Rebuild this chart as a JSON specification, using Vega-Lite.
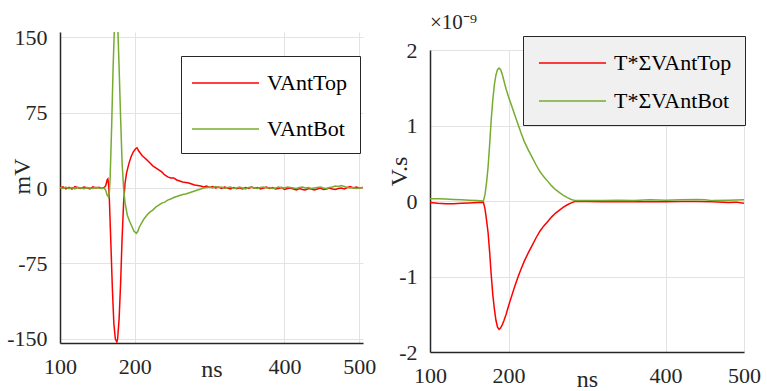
{
  "$schema": "https://vega.github.io/schema/vega-lite/v6.json",
  "padding": {"left": 6, "top": 12, "right": 0, "bottom": 0},
  "background": "white",
  "config": {
    "view": {"stroke": null},
    "font": "Liberation Serif",
    "axis": {
      "domainColor": "#262626",
      "domainWidth": 1.5,
      "gridColor": "#e3e3e3",
      "gridWidth": 1,
      "ticks": false,
      "labelFont": "Liberation Serif",
      "labelFontSize": 22,
      "labelColor": "#262626",
      "titleFont": "Liberation Serif",
      "titleFontSize": 24,
      "titleFontWeight": "normal",
      "titleColor": "#262626",
      "labelFlush": false,
      "labelOverlap": false,
      "labelPadding": 13,
      "labelExpr": "replace(datum.label, '−', '-')"
    },
    "legend": {
      "orient": "none",
      "title": null,
      "strokeColor": "#262626",
      "symbolType": "M-2.58,0H2.58",
      "symbolSize": 676,
      "symbolStrokeWidth": 1.5,
      "labelFont": "Liberation Serif",
      "labelFontSize": 22,
      "labelColor": "#000000",
      "padding": 13
    },
    "title": {"font": "Liberation Serif"}
  },
  "datasets": {
    "left": [
      {"t":100,"v":0,"s":"VAntTop"},{"t":104,"v":1.2,"s":"VAntTop"},{"t":108,"v":-0.8,"s":"VAntTop"},{"t":112,"v":0.6,"s":"VAntTop"},{"t":116,"v":-1,"s":"VAntTop"},{"t":120,"v":1.5,"s":"VAntTop"},{"t":124,"v":0.3,"s":"VAntTop"},{"t":128,"v":-0.5,"s":"VAntTop"},{"t":132,"v":1,"s":"VAntTop"},{"t":136,"v":0.2,"s":"VAntTop"},{"t":140,"v":-0.8,"s":"VAntTop"},{"t":144,"v":1.2,"s":"VAntTop"},{"t":148,"v":0,"s":"VAntTop"},{"t":152,"v":0.8,"s":"VAntTop"},{"t":156,"v":-0.5,"s":"VAntTop"},{"t":159,"v":0.5,"s":"VAntTop"},{"t":161,"v":2,"s":"VAntTop"},{"t":163,"v":8,"s":"VAntTop"},{"t":164,"v":9,"s":"VAntTop"},{"t":165,"v":3,"s":"VAntTop"},{"t":166,"v":-12,"s":"VAntTop"},{"t":168,"v":-55,"s":"VAntTop"},{"t":170,"v":-100,"s":"VAntTop"},{"t":172,"v":-135,"s":"VAntTop"},{"t":174,"v":-150,"s":"VAntTop"},{"t":176,"v":-153,"s":"VAntTop"},{"t":177,"v":-150,"s":"VAntTop"},{"t":179,"v":-130,"s":"VAntTop"},{"t":181,"v":-95,"s":"VAntTop"},{"t":183,"v":-50,"s":"VAntTop"},{"t":185,"v":-15,"s":"VAntTop"},{"t":187,"v":5,"s":"VAntTop"},{"t":189,"v":15,"s":"VAntTop"},{"t":192,"v":24,"s":"VAntTop"},{"t":195,"v":31,"s":"VAntTop"},{"t":198,"v":36,"s":"VAntTop"},{"t":201,"v":39,"s":"VAntTop"},{"t":203,"v":40,"s":"VAntTop"},{"t":205,"v":37,"s":"VAntTop"},{"t":207,"v":35,"s":"VAntTop"},{"t":210,"v":32,"s":"VAntTop"},{"t":213,"v":30,"s":"VAntTop"},{"t":216,"v":28,"s":"VAntTop"},{"t":220,"v":25,"s":"VAntTop"},{"t":224,"v":22,"s":"VAntTop"},{"t":228,"v":20,"s":"VAntTop"},{"t":232,"v":18,"s":"VAntTop"},{"t":236,"v":16,"s":"VAntTop"},{"t":240,"v":13,"s":"VAntTop"},{"t":244,"v":11,"s":"VAntTop"},{"t":248,"v":10,"s":"VAntTop"},{"t":252,"v":10,"s":"VAntTop"},{"t":256,"v":8,"s":"VAntTop"},{"t":260,"v":7,"s":"VAntTop"},{"t":264,"v":6,"s":"VAntTop"},{"t":268,"v":5.5,"s":"VAntTop"},{"t":272,"v":5,"s":"VAntTop"},{"t":276,"v":4,"s":"VAntTop"},{"t":280,"v":3,"s":"VAntTop"},{"t":284,"v":2.5,"s":"VAntTop"},{"t":288,"v":2,"s":"VAntTop"},{"t":292,"v":1,"s":"VAntTop"},{"t":296,"v":2,"s":"VAntTop"},{"t":300,"v":0.5,"s":"VAntTop"},{"t":304,"v":1.5,"s":"VAntTop"},{"t":308,"v":0,"s":"VAntTop"},{"t":312,"v":1,"s":"VAntTop"},{"t":316,"v":-0.5,"s":"VAntTop"},{"t":320,"v":1,"s":"VAntTop"},{"t":324,"v":0,"s":"VAntTop"},{"t":328,"v":-1,"s":"VAntTop"},{"t":332,"v":0.5,"s":"VAntTop"},{"t":336,"v":-0.8,"s":"VAntTop"},{"t":340,"v":0.3,"s":"VAntTop"},{"t":344,"v":-1,"s":"VAntTop"},{"t":348,"v":0.5,"s":"VAntTop"},{"t":352,"v":-0.5,"s":"VAntTop"},{"t":356,"v":1,"s":"VAntTop"},{"t":360,"v":-0.3,"s":"VAntTop"},{"t":364,"v":0.5,"s":"VAntTop"},{"t":368,"v":-1,"s":"VAntTop"},{"t":372,"v":0,"s":"VAntTop"},{"t":376,"v":1,"s":"VAntTop"},{"t":380,"v":-0.5,"s":"VAntTop"},{"t":384,"v":0.5,"s":"VAntTop"},{"t":388,"v":-1,"s":"VAntTop"},{"t":392,"v":-0.5,"s":"VAntTop"},{"t":396,"v":0.5,"s":"VAntTop"},{"t":400,"v":-1.5,"s":"VAntTop"},{"t":404,"v":-0.5,"s":"VAntTop"},{"t":408,"v":0,"s":"VAntTop"},{"t":412,"v":-1,"s":"VAntTop"},{"t":416,"v":-2,"s":"VAntTop"},{"t":420,"v":-0.5,"s":"VAntTop"},{"t":424,"v":-1.5,"s":"VAntTop"},{"t":428,"v":-2,"s":"VAntTop"},{"t":432,"v":-0.5,"s":"VAntTop"},{"t":436,"v":-1,"s":"VAntTop"},{"t":440,"v":-2,"s":"VAntTop"},{"t":444,"v":-1,"s":"VAntTop"},{"t":448,"v":0,"s":"VAntTop"},{"t":452,"v":-1.5,"s":"VAntTop"},{"t":456,"v":-1,"s":"VAntTop"},{"t":460,"v":0,"s":"VAntTop"},{"t":464,"v":-1,"s":"VAntTop"},{"t":468,"v":-1.5,"s":"VAntTop"},{"t":472,"v":-0.5,"s":"VAntTop"},{"t":476,"v":0,"s":"VAntTop"},{"t":480,"v":-1,"s":"VAntTop"},{"t":484,"v":0.5,"s":"VAntTop"},{"t":488,"v":1.5,"s":"VAntTop"},{"t":492,"v":0,"s":"VAntTop"},{"t":496,"v":1,"s":"VAntTop"},{"t":500,"v":0,"s":"VAntTop"},{"t":505,"v":0.5,"s":"VAntTop"},
      {"t":100,"v":0.5,"s":"VAntBot"},{"t":104,"v":-0.5,"s":"VAntBot"},{"t":108,"v":0.8,"s":"VAntBot"},{"t":112,"v":-0.6,"s":"VAntBot"},{"t":116,"v":0.5,"s":"VAntBot"},{"t":120,"v":-0.8,"s":"VAntBot"},{"t":124,"v":0.6,"s":"VAntBot"},{"t":128,"v":0,"s":"VAntBot"},{"t":132,"v":-0.6,"s":"VAntBot"},{"t":136,"v":0.5,"s":"VAntBot"},{"t":140,"v":0,"s":"VAntBot"},{"t":144,"v":-0.5,"s":"VAntBot"},{"t":148,"v":0.6,"s":"VAntBot"},{"t":152,"v":0,"s":"VAntBot"},{"t":156,"v":-0.5,"s":"VAntBot"},{"t":159,"v":0,"s":"VAntBot"},{"t":161,"v":-2,"s":"VAntBot"},{"t":163,"v":-7,"s":"VAntBot"},{"t":165,"v":-9,"s":"VAntBot"},{"t":166,"v":-4,"s":"VAntBot"},{"t":167,"v":10,"s":"VAntBot"},{"t":169,"v":60,"s":"VAntBot"},{"t":171,"v":120,"s":"VAntBot"},{"t":173,"v":165,"s":"VAntBot"},{"t":175,"v":172,"s":"VAntBot"},{"t":177,"v":165,"s":"VAntBot"},{"t":179,"v":120,"s":"VAntBot"},{"t":181,"v":70,"s":"VAntBot"},{"t":183,"v":25,"s":"VAntBot"},{"t":185,"v":0,"s":"VAntBot"},{"t":187,"v":-15,"s":"VAntBot"},{"t":190,"v":-27,"s":"VAntBot"},{"t":193,"v":-33,"s":"VAntBot"},{"t":196,"v":-38,"s":"VAntBot"},{"t":199,"v":-43,"s":"VAntBot"},{"t":202,"v":-45,"s":"VAntBot"},{"t":204,"v":-43,"s":"VAntBot"},{"t":206,"v":-39,"s":"VAntBot"},{"t":209,"v":-35,"s":"VAntBot"},{"t":212,"v":-31,"s":"VAntBot"},{"t":216,"v":-27,"s":"VAntBot"},{"t":220,"v":-24,"s":"VAntBot"},{"t":224,"v":-22,"s":"VAntBot"},{"t":228,"v":-19,"s":"VAntBot"},{"t":232,"v":-17,"s":"VAntBot"},{"t":236,"v":-15,"s":"VAntBot"},{"t":240,"v":-14,"s":"VAntBot"},{"t":244,"v":-12,"s":"VAntBot"},{"t":248,"v":-11,"s":"VAntBot"},{"t":252,"v":-9.5,"s":"VAntBot"},{"t":256,"v":-8.5,"s":"VAntBot"},{"t":260,"v":-7.5,"s":"VAntBot"},{"t":264,"v":-6.5,"s":"VAntBot"},{"t":268,"v":-6,"s":"VAntBot"},{"t":272,"v":-5,"s":"VAntBot"},{"t":276,"v":-4,"s":"VAntBot"},{"t":280,"v":-3,"s":"VAntBot"},{"t":284,"v":-2,"s":"VAntBot"},{"t":288,"v":-1,"s":"VAntBot"},{"t":292,"v":0,"s":"VAntBot"},{"t":296,"v":0.5,"s":"VAntBot"},{"t":300,"v":1,"s":"VAntBot"},{"t":304,"v":0,"s":"VAntBot"},{"t":308,"v":1.5,"s":"VAntBot"},{"t":312,"v":0.5,"s":"VAntBot"},{"t":316,"v":1,"s":"VAntBot"},{"t":320,"v":-0.5,"s":"VAntBot"},{"t":324,"v":0.5,"s":"VAntBot"},{"t":328,"v":1,"s":"VAntBot"},{"t":332,"v":-0.5,"s":"VAntBot"},{"t":336,"v":0,"s":"VAntBot"},{"t":340,"v":1,"s":"VAntBot"},{"t":344,"v":0,"s":"VAntBot"},{"t":348,"v":-1,"s":"VAntBot"},{"t":352,"v":0.5,"s":"VAntBot"},{"t":356,"v":1,"s":"VAntBot"},{"t":360,"v":0,"s":"VAntBot"},{"t":364,"v":-0.5,"s":"VAntBot"},{"t":368,"v":0.5,"s":"VAntBot"},{"t":372,"v":1,"s":"VAntBot"},{"t":376,"v":0,"s":"VAntBot"},{"t":380,"v":0.5,"s":"VAntBot"},{"t":384,"v":-0.5,"s":"VAntBot"},{"t":388,"v":0,"s":"VAntBot"},{"t":392,"v":1,"s":"VAntBot"},{"t":396,"v":0.5,"s":"VAntBot"},{"t":400,"v":0,"s":"VAntBot"},{"t":404,"v":1,"s":"VAntBot"},{"t":408,"v":0.5,"s":"VAntBot"},{"t":412,"v":0,"s":"VAntBot"},{"t":416,"v":-0.5,"s":"VAntBot"},{"t":420,"v":0.5,"s":"VAntBot"},{"t":424,"v":1,"s":"VAntBot"},{"t":428,"v":0,"s":"VAntBot"},{"t":432,"v":0.5,"s":"VAntBot"},{"t":436,"v":-0.5,"s":"VAntBot"},{"t":440,"v":0,"s":"VAntBot"},{"t":444,"v":0.5,"s":"VAntBot"},{"t":448,"v":1,"s":"VAntBot"},{"t":452,"v":0,"s":"VAntBot"},{"t":456,"v":-0.5,"s":"VAntBot"},{"t":460,"v":0.5,"s":"VAntBot"},{"t":464,"v":1,"s":"VAntBot"},{"t":468,"v":2,"s":"VAntBot"},{"t":472,"v":1.5,"s":"VAntBot"},{"t":476,"v":2.5,"s":"VAntBot"},{"t":480,"v":1.5,"s":"VAntBot"},{"t":484,"v":0.5,"s":"VAntBot"},{"t":488,"v":0,"s":"VAntBot"},{"t":492,"v":0.5,"s":"VAntBot"},{"t":496,"v":-0.5,"s":"VAntBot"},{"t":500,"v":0,"s":"VAntBot"},{"t":505,"v":0.5,"s":"VAntBot"}
    ],
    "right": [
      {"t":100,"v":-0.02,"s":"T*ΣVAntTop"},{"t":110,"v":-0.03,"s":"T*ΣVAntTop"},{"t":120,"v":-0.035,"s":"T*ΣVAntTop"},{"t":130,"v":-0.035,"s":"T*ΣVAntTop"},{"t":140,"v":-0.03,"s":"T*ΣVAntTop"},{"t":150,"v":-0.025,"s":"T*ΣVAntTop"},{"t":160,"v":-0.02,"s":"T*ΣVAntTop"},{"t":168,"v":-0.015,"s":"T*ΣVAntTop"},{"t":170,"v":-0.1,"s":"T*ΣVAntTop"},{"t":172,"v":-0.25,"s":"T*ΣVAntTop"},{"t":174,"v":-0.42,"s":"T*ΣVAntTop"},{"t":176,"v":-0.68,"s":"T*ΣVAntTop"},{"t":178,"v":-0.98,"s":"T*ΣVAntTop"},{"t":180,"v":-1.24,"s":"T*ΣVAntTop"},{"t":182,"v":-1.43,"s":"T*ΣVAntTop"},{"t":184,"v":-1.58,"s":"T*ΣVAntTop"},{"t":186,"v":-1.67,"s":"T*ΣVAntTop"},{"t":188,"v":-1.7,"s":"T*ΣVAntTop"},{"t":190,"v":-1.68,"s":"T*ΣVAntTop"},{"t":192,"v":-1.64,"s":"T*ΣVAntTop"},{"t":194,"v":-1.59,"s":"T*ΣVAntTop"},{"t":197,"v":-1.5,"s":"T*ΣVAntTop"},{"t":200,"v":-1.39,"s":"T*ΣVAntTop"},{"t":204,"v":-1.26,"s":"T*ΣVAntTop"},{"t":208,"v":-1.13,"s":"T*ΣVAntTop"},{"t":212,"v":-1.01,"s":"T*ΣVAntTop"},{"t":216,"v":-0.9,"s":"T*ΣVAntTop"},{"t":220,"v":-0.8,"s":"T*ΣVAntTop"},{"t":225,"v":-0.69,"s":"T*ΣVAntTop"},{"t":230,"v":-0.59,"s":"T*ΣVAntTop"},{"t":235,"v":-0.49,"s":"T*ΣVAntTop"},{"t":240,"v":-0.4,"s":"T*ΣVAntTop"},{"t":245,"v":-0.33,"s":"T*ΣVAntTop"},{"t":250,"v":-0.27,"s":"T*ΣVAntTop"},{"t":255,"v":-0.21,"s":"T*ΣVAntTop"},{"t":260,"v":-0.16,"s":"T*ΣVAntTop"},{"t":265,"v":-0.12,"s":"T*ΣVAntTop"},{"t":270,"v":-0.08,"s":"T*ΣVAntTop"},{"t":275,"v":-0.05,"s":"T*ΣVAntTop"},{"t":280,"v":-0.025,"s":"T*ΣVAntTop"},{"t":285,"v":-0.005,"s":"T*ΣVAntTop"},{"t":300,"v":-0.005,"s":"T*ΣVAntTop"},{"t":320,"v":-0.01,"s":"T*ΣVAntTop"},{"t":340,"v":-0.005,"s":"T*ΣVAntTop"},{"t":360,"v":-0.01,"s":"T*ΣVAntTop"},{"t":380,"v":-0.01,"s":"T*ΣVAntTop"},{"t":400,"v":-0.01,"s":"T*ΣVAntTop"},{"t":420,"v":-0.005,"s":"T*ΣVAntTop"},{"t":440,"v":-0.005,"s":"T*ΣVAntTop"},{"t":460,"v":-0.01,"s":"T*ΣVAntTop"},{"t":480,"v":-0.02,"s":"T*ΣVAntTop"},{"t":490,"v":-0.015,"s":"T*ΣVAntTop"},{"t":500,"v":-0.03,"s":"T*ΣVAntTop"},
      {"t":100,"v":0.03,"s":"T*ΣVAntBot"},{"t":110,"v":0.03,"s":"T*ΣVAntBot"},{"t":120,"v":0.025,"s":"T*ΣVAntBot"},{"t":130,"v":0.02,"s":"T*ΣVAntBot"},{"t":140,"v":0.015,"s":"T*ΣVAntBot"},{"t":150,"v":0.01,"s":"T*ΣVAntBot"},{"t":160,"v":0.005,"s":"T*ΣVAntBot"},{"t":168,"v":0,"s":"T*ΣVAntBot"},{"t":170,"v":0.08,"s":"T*ΣVAntBot"},{"t":172,"v":0.24,"s":"T*ΣVAntBot"},{"t":174,"v":0.45,"s":"T*ΣVAntBot"},{"t":176,"v":0.75,"s":"T*ΣVAntBot"},{"t":178,"v":1.08,"s":"T*ΣVAntBot"},{"t":180,"v":1.34,"s":"T*ΣVAntBot"},{"t":182,"v":1.54,"s":"T*ΣVAntBot"},{"t":184,"v":1.67,"s":"T*ΣVAntBot"},{"t":186,"v":1.74,"s":"T*ΣVAntBot"},{"t":188,"v":1.76,"s":"T*ΣVAntBot"},{"t":190,"v":1.74,"s":"T*ΣVAntBot"},{"t":192,"v":1.68,"s":"T*ΣVAntBot"},{"t":194,"v":1.6,"s":"T*ΣVAntBot"},{"t":197,"v":1.48,"s":"T*ΣVAntBot"},{"t":200,"v":1.38,"s":"T*ΣVAntBot"},{"t":204,"v":1.26,"s":"T*ΣVAntBot"},{"t":208,"v":1.14,"s":"T*ΣVAntBot"},{"t":212,"v":1.02,"s":"T*ΣVAntBot"},{"t":216,"v":0.9,"s":"T*ΣVAntBot"},{"t":220,"v":0.79,"s":"T*ΣVAntBot"},{"t":225,"v":0.68,"s":"T*ΣVAntBot"},{"t":230,"v":0.58,"s":"T*ΣVAntBot"},{"t":235,"v":0.48,"s":"T*ΣVAntBot"},{"t":240,"v":0.39,"s":"T*ΣVAntBot"},{"t":245,"v":0.32,"s":"T*ΣVAntBot"},{"t":250,"v":0.26,"s":"T*ΣVAntBot"},{"t":255,"v":0.2,"s":"T*ΣVAntBot"},{"t":260,"v":0.15,"s":"T*ΣVAntBot"},{"t":265,"v":0.11,"s":"T*ΣVAntBot"},{"t":270,"v":0.075,"s":"T*ΣVAntBot"},{"t":275,"v":0.045,"s":"T*ΣVAntBot"},{"t":280,"v":0.02,"s":"T*ΣVAntBot"},{"t":285,"v":0.005,"s":"T*ΣVAntBot"},{"t":300,"v":0.005,"s":"T*ΣVAntBot"},{"t":320,"v":0.005,"s":"T*ΣVAntBot"},{"t":340,"v":0.01,"s":"T*ΣVAntBot"},{"t":360,"v":0.005,"s":"T*ΣVAntBot"},{"t":380,"v":0.015,"s":"T*ΣVAntBot"},{"t":400,"v":0.01,"s":"T*ΣVAntBot"},{"t":420,"v":0.015,"s":"T*ΣVAntBot"},{"t":440,"v":0.02,"s":"T*ΣVAntBot"},{"t":450,"v":0.015,"s":"T*ΣVAntBot"},{"t":460,"v":0.005,"s":"T*ΣVAntBot"},{"t":480,"v":0.01,"s":"T*ΣVAntBot"},{"t":500,"v":0.015,"s":"T*ΣVAntBot"}
    ],
    "empty": []
  },
  "bounds": "flush",
  "spacing": 67,
  "resolve": {"scale": {"color": "independent"}, "legend": {"color": "independent"}},
  "hconcat": [
    {
      "width": 303,
      "height": 311,
      "data": {"name": "left"},
      "mark": {"type": "line", "strokeWidth": 1.5, "clip": true},
      "encoding": {
        "x": {"field": "t", "type": "quantitative",
          "scale": {"domain": [100, 505], "nice": false, "zero": false},
          "axis": {"values": [100, 200, 400, 500], "title": "ns", "titleY": 33, "titleBaseline": "alphabetic"}},
        "y": {"field": "v", "type": "quantitative",
          "scale": {"domain": [-154, 155], "nice": false},
          "axis": {"values": [-150, -75, 0, 75, 150], "title": "mV", "titleX": -38, "titleY": 144, "titleBaseline": "middle", "titleAlign": "center"}},
        "color": {"field": "s", "type": "nominal",
          "scale": {"domain": ["VAntTop", "VAntBot"], "range": ["#ff0000", "#77ac30"]},
          "legend": {"legendX": 121, "legendY": 24, "fillColor": "white", "symbolOffset": 17.5, "labelOffset": 27.5, "rowPadding": 21}}
      }
    },
    {
      "bounds": "flush",
      "spacing": 0,
      "vconcat": [
        {
          "width": 314,
          "height": 18,
          "data": {"name": "empty"},
          "mark": {"type": "point", "opacity": 0}
        },
        {
          "width": 314,
          "height": 302,
          "title": {"text": "×10⁻⁹", "anchor": "start", "frame": "group", "fontSize": 21, "fontWeight": "normal", "color": "#262626", "offset": 6},
          "data": {"name": "right"},
          "mark": {"type": "line", "strokeWidth": 1.5, "clip": true},
          "encoding": {
            "x": {"field": "t", "type": "quantitative",
              "scale": {"domain": [100, 500], "nice": false, "zero": false},
              "axis": {"values": [100, 200, 400, 500], "title": "ns", "titleY": 34, "titleBaseline": "alphabetic"}},
            "y": {"field": "v", "type": "quantitative",
              "scale": {"domain": [-2, 2], "nice": false},
              "axis": {"values": [-2, -1, 0, 1, 2], "title": "V.s", "titleX": -31, "titleY": 121, "titleBaseline": "middle", "titleAlign": "center"}},
            "color": {"field": "s", "type": "nominal",
              "scale": {"domain": ["T*ΣVAntTop", "T*ΣVAntBot"], "range": ["#ff0000", "#77ac30"]},
              "legend": {"legendX": 93, "legendY": 4, "fillColor": "#f0f0f0", "symbolOffset": 22.5, "labelOffset": 27.5, "rowPadding": 13}}
          }
        }
      ]
    }
  ]
}
